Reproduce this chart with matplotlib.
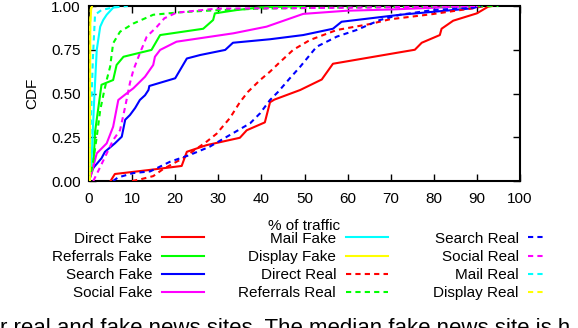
import matplotlib
matplotlib.use('Agg')
import matplotlib.pyplot as plt

plt.rcParams['font.family'] = ['Liberation Sans', 'DejaVu Sans']

# ---- CDF data (x = % of traffic, y = CDF) ----
direct_fake_x = [5, 5.5, 6, 14, 21.5, 22.7, 27.3, 35, 36.6, 40.8, 42, 43, 49, 54, 56.6, 72, 75.6, 77.2, 81.4, 81.8, 84.5, 90, 92.6, 93.5]
direct_fake_y = [0, 0.02, 0.04, 0.063, 0.086, 0.167, 0.205, 0.247, 0.29, 0.335, 0.45, 0.465, 0.52, 0.58, 0.67, 0.735, 0.75, 0.79, 0.834, 0.87, 0.916, 0.958, 0.996, 1.0]

referrals_fake_x = [0, 1, 1.4, 2.9, 5.6, 6.4, 8, 14.5, 16.5, 26.5, 28.8, 29.2, 34.3, 39.7, 50]
referrals_fake_y = [0, 0.075, 0.28, 0.55, 0.577, 0.663, 0.71, 0.749, 0.834, 0.87, 0.92, 0.958, 0.977, 0.992, 1.0]

search_fake_x = [0, 0.6, 2.9, 3.7, 6, 7.6, 8.4, 9.5, 10.7, 11.8, 13, 13.8, 14, 20, 22.7, 25.8, 31.6, 33.4, 42, 49.7, 56.6, 58.6, 72.2, 89, 90.5]
search_fake_y = [0, 0.063, 0.13, 0.167, 0.215, 0.253, 0.35, 0.377, 0.417, 0.463, 0.49, 0.52, 0.543, 0.587, 0.70, 0.72, 0.749, 0.79, 0.81, 0.834, 0.87, 0.91, 0.95, 0.987, 1.0]

social_fake_x = [0, 0.6, 1.8, 4.1, 5.6, 6.8, 8.7, 10.3, 13, 14.9, 15.3, 16.5, 20.3, 33.5, 41.2, 49.7, 59.8, 70, 90]
social_fake_y = [0, 0.045, 0.158, 0.215, 0.31, 0.463, 0.50, 0.53, 0.596, 0.663, 0.71, 0.749, 0.796, 0.844, 0.882, 0.955, 0.973, 0.98, 1.0]

mail_fake_x = [0, 0.6, 1.2, 1.8, 2.6, 3.3, 4.1, 5.6, 6.5]
mail_fake_y = [0, 0.12, 0.463, 0.75, 0.882, 0.92, 0.95, 0.99, 1.0]

display_fake_x = [0.2, 0.3, 0.5, 0.7]
display_fake_y = [0, 0.9, 0.98, 1.0]

direct_real_x = [10, 12, 14.9, 17.2, 21.8, 27.3, 29.6, 32.7, 35, 36.9, 39.7, 42, 43.9, 47.4, 51.3, 57.5, 65.2, 69.8, 79.8, 89, 92]
direct_real_y = [0, 0.01, 0.028, 0.068, 0.13, 0.225, 0.27, 0.36, 0.45, 0.51, 0.577, 0.625, 0.67, 0.75, 0.806, 0.863, 0.897, 0.924, 0.954, 0.987, 1.0]

referrals_real_x = [0, 0.9, 1.8, 2.6, 3.4, 4.1, 4.9, 5.6, 7.2, 10.3, 14.9, 21.1, 28.8, 40, 55, 95]
referrals_real_y = [0, 0.1, 0.253, 0.405, 0.5, 0.577, 0.653, 0.787, 0.853, 0.9, 0.95, 0.964, 0.975, 0.985, 0.99, 1.0]

search_real_x = [5.6, 6.7, 10.2, 14.2, 18.8, 23.4, 28, 32.7, 37.4, 39.7, 42, 43.9, 46.6, 49, 52.8, 57.5, 62.1, 67.5, 72.2, 79.8, 89, 91]
search_real_y = [0, 0.02, 0.045, 0.055, 0.11, 0.149, 0.196, 0.263, 0.33, 0.387, 0.463, 0.51, 0.587, 0.653, 0.767, 0.825, 0.863, 0.92, 0.95, 0.977, 0.99, 1.0]

social_real_x = [1, 2.6, 5.6, 7.2, 8.4, 9.5, 10.3, 11.8, 13.4, 15.7, 17.5, 20.3, 29.6, 60, 90]
social_real_y = [0, 0.08, 0.234, 0.29, 0.425, 0.56, 0.634, 0.73, 0.825, 0.88, 0.93, 0.962, 0.985, 0.99, 1.0]

mail_real_x = [0, 0.4, 0.9, 1.4, 2.9, 5.3, 9]
mail_real_y = [0, 0.3, 0.7, 0.95, 0.977, 0.99, 1.0]

display_real_x = [0.2, 0.25, 0.4, 0.6]
display_real_y = [0, 0.9, 0.98, 1.0]

x_ticks = [0, 10, 20, 30, 40, 50, 60, 70, 80, 90, 100]
y_ticks = [0, 0.25, 0.5, 0.75, 1.0]
y_ticklabels = ['0.00', '0.25', '0.50', '0.75', '1.00']

caption = 'r real and fake news sites. The median fake news site is h'

RED, GREEN, BLUE, MAG, CYAN, YEL = '#ff0000', '#00ff00', '#0000ff', '#ff00ff', '#00ffff', '#ffff00'
DASH = (2.5, 2)
LW = 1.5

fig = plt.figure(figsize=(5.78, 3.28), dpi=100)
W, H = 578, 328
ax = fig.add_axes([89 / W, 1 - 181 / H, (520 - 89) / W, (181 - 6) / H])

fake = [
    ('Direct Fake', direct_fake_x, direct_fake_y, RED),
    ('Referrals Fake', referrals_fake_x, referrals_fake_y, GREEN),
    ('Search Fake', search_fake_x, search_fake_y, BLUE),
    ('Social Fake', social_fake_x, social_fake_y, MAG),
    ('Mail Fake', mail_fake_x, mail_fake_y, CYAN),
    ('Display Fake', display_fake_x, display_fake_y, YEL),
]
real = [
    ('Direct Real', direct_real_x, direct_real_y, RED),
    ('Referrals Real', referrals_real_x, referrals_real_y, GREEN),
    ('Search Real', search_real_x, search_real_y, BLUE),
    ('Social Real', social_real_x, social_real_y, MAG),
    ('Mail Real', mail_real_x, mail_real_y, CYAN),
    ('Display Real', display_real_x, display_real_y, YEL),
]

handles = []
for name, xs, ys, col in fake:
    h, = ax.plot(xs, ys, color=col, lw=LW, label=name, zorder=2.6)
    handles.append(h)
for name, xs, ys, col in real:
    h, = ax.plot(xs, ys, color=col, lw=LW, label=name, dashes=DASH, zorder=2.6)
    handles.append(h)

ax.set_xlim(0, 100)
ax.set_ylim(0, 1)
ax.set_xticks(x_ticks)
ax.set_yticks(y_ticks)
ax.set_yticklabels(y_ticklabels)
ax.tick_params(direction='in', length=5, width=1, top=True, right=True, labelsize=11)
ax.tick_params(axis='x', pad=8)
ax.tick_params(axis='y', pad=6)
for s in ax.spines.values():
    s.set_linewidth(1.5)

ax.set_xlabel('% of traffic', fontsize=11)
ax.xaxis.set_label_coords(0.5, -0.215)
ax.set_ylabel('CDF', fontsize=11)
ax.yaxis.set_label_coords(-0.115, 0.5)

# legend: three columns, text on the left of the sample line
mid_y = 1 - 266 / H
cols = [(handles[0:4], 204, 2.75), (handles[4:8], 388, 2.75), (handles[8:12], 543, 0.95)]
for hs, right, hl in cols:
    fig.legend(handles=hs, labels=[h.get_label() for h in hs], loc='center right',
               bbox_to_anchor=(right / W, mid_y), frameon=False, markerfirst=False,
               fontsize=11, handlelength=hl, handletextpad=0.65, labelspacing=0.27,
               borderpad=0, borderaxespad=0)

fig.text(0.0, 1 - 318 / H, caption, fontsize=16, va='top', ha='left')

fig.savefig('out.png', dpi=100)
